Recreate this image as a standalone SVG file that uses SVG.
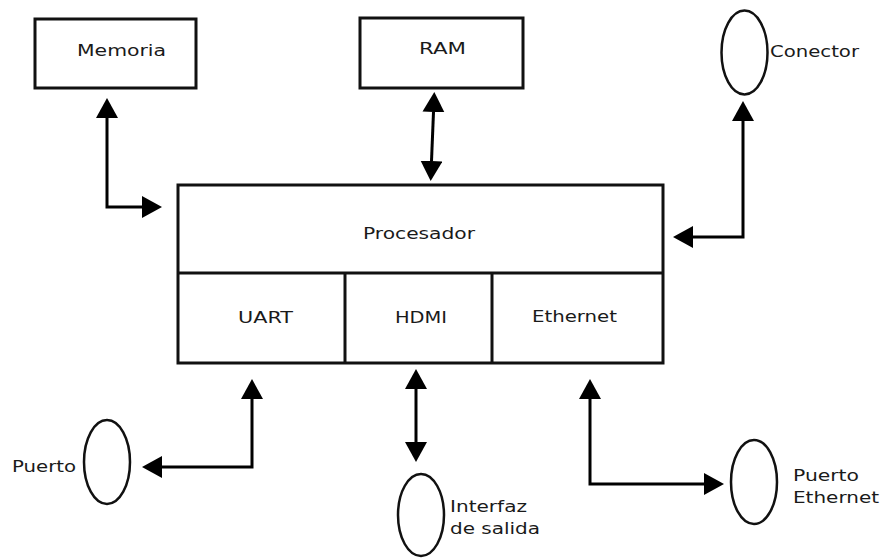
<svg xmlns="http://www.w3.org/2000/svg" width="883" height="558" viewBox="0 0 883 558">
  <style>
    .box { fill: #ffffff; stroke: #111111; stroke-width: 3; }
    .port { fill: #ffffff; stroke: #111111; stroke-width: 2.5; }
    .div { stroke: #111111; stroke-width: 3; fill: none; }
    .wire { fill: none; stroke: #000000; stroke-width: 3; }
    .lbl { font-family: "DejaVu Sans", "Liberation Sans", sans-serif; font-size: 16px; fill: #1a1a1a; }
  </style>
  <defs>
    <marker id="head" markerUnits="userSpaceOnUse" markerWidth="20" markerHeight="22" refX="0" refY="11" orient="auto-start-reverse" viewBox="0 0 20 22">
      <path d="M0,0 L20,11 L0,22 Z" fill="#000000"/>
    </marker>
  </defs>

  <rect width="883" height="558" fill="#ffffff"/>

  <!-- connectors -->
  <g id="connectors" class="wire" marker-start="url(#head)" marker-end="url(#head)">
    <path d="M107,118 V207 H142"/>
    <path d="M433.5,112 L431.5,161"/>
    <path d="M743,121 V237 H693"/>
    <path d="M252,399 V467 H162"/>
    <path d="M416,389 V442"/>
    <path d="M590,399 V484 H704"/>
  </g>

  <g id="memoria">
    <rect class="box" x="35" y="19" width="161" height="69"/>
    <text class="lbl" x="77" y="56" textLength="89" lengthAdjust="spacingAndGlyphs">Memoria</text>
  </g>

  <g id="ram">
    <rect class="box" x="360" y="18" width="163" height="70"/>
    <text class="lbl" x="419" y="54" textLength="47" lengthAdjust="spacingAndGlyphs">RAM</text>
  </g>

  <g id="conector">
    <ellipse class="port" cx="744.5" cy="52.5" rx="23" ry="42"/>
    <text class="lbl" x="770" y="57" textLength="89" lengthAdjust="spacingAndGlyphs">Conector</text>
  </g>

  <g id="procesador">
    <rect class="box" x="178" y="185" width="485" height="178"/>
    <line class="div" x1="178" y1="273" x2="663" y2="273"/>
    <text class="lbl" x="363" y="239" textLength="112" lengthAdjust="spacingAndGlyphs">Procesador</text>
  </g>

  <g id="uart">
    <text class="lbl" x="238" y="323" textLength="55" lengthAdjust="spacingAndGlyphs">UART</text>
  </g>

  <g id="hdmi">
    <line class="div" x1="345" y1="273" x2="345" y2="363"/>
    <text class="lbl" x="395" y="323" textLength="52" lengthAdjust="spacingAndGlyphs">HDMI</text>
  </g>

  <g id="ethernet">
    <line class="div" x1="492" y1="273" x2="492" y2="363"/>
    <text class="lbl" x="532" y="322" textLength="85" lengthAdjust="spacingAndGlyphs">Ethernet</text>
  </g>

  <g id="puerto">
    <ellipse class="port" cx="107" cy="462" rx="23" ry="42"/>
    <text class="lbl" x="12" y="472" textLength="64" lengthAdjust="spacingAndGlyphs">Puerto</text>
  </g>

  <g id="interfaz-salida">
    <ellipse class="port" cx="421" cy="515" rx="23" ry="41"/>
    <text class="lbl" x="450" y="512" textLength="77" lengthAdjust="spacingAndGlyphs">Interfaz</text>
    <text class="lbl" x="450" y="534" textLength="90" lengthAdjust="spacingAndGlyphs">de salida</text>
  </g>

  <g id="puerto-ethernet">
    <ellipse class="port" cx="754" cy="482" rx="23" ry="42"/>
    <text class="lbl" x="793" y="481" textLength="66" lengthAdjust="spacingAndGlyphs">Puerto</text>
    <text class="lbl" x="793" y="503" textLength="86" lengthAdjust="spacingAndGlyphs">Ethernet</text>
  </g>
</svg>
